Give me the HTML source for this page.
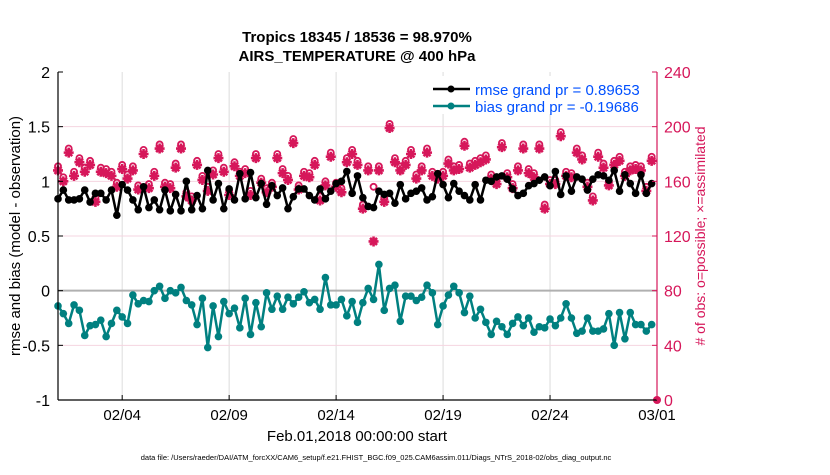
<!DOCTYPE html>
<html><head><meta charset="utf-8"><style>
body{margin:0;background:#fff;}
svg text{font-family:"Liberation Sans",Arial,sans-serif;}
</style></head><body>
<svg id="chart" width="830" height="470" xmlns="http://www.w3.org/2000/svg">
<rect width="830" height="470" fill="#fff"/>
<g id="grid"></g>
<g id="marks"></g>
<g id="axes"></g>
<text x="357" y="42" text-anchor="middle" font-size="15" font-weight="bold">Tropics 18345 / 18536 = 98.970%</text>
<text x="357" y="61" text-anchor="middle" font-size="15" font-weight="bold">AIRS_TEMPERATURE @ 400 hPa</text>
<text transform="translate(20,236) rotate(-90)" text-anchor="middle" font-size="15">rmse and bias (model - observation)</text>
<text transform="translate(705,236) rotate(-90)" text-anchor="middle" font-size="14" fill="#d6175a">#  of obs: o=possible; &#215;=assimilated</text>
<text x="357" y="441" text-anchor="middle" font-size="15">Feb.01,2018 00:00:00 start</text>
<text x="376" y="460" text-anchor="middle" font-size="7.5">data file: /Users/raeder/DAI/ATM_forcXX/CAM6_setup/f.e21.FHIST_BGC.f09_025.CAM6assim.011/Diags_NTrS_2018-02/obs_diag_output.nc</text>
<g>
<rect x="425" y="76" width="228" height="38" fill="#fff"/>
<line x1="433" y1="89" x2="470" y2="89" stroke="#000" stroke-width="2.5"/>
<circle cx="451" cy="89" r="3.5" fill="#000"/>
<text x="475" y="95" font-size="15" fill="#0050ff">rmse grand pr = 0.89653</text>
<line x1="433" y1="106" x2="470" y2="106" stroke="#008080" stroke-width="2.5"/>
<circle cx="451" cy="106" r="3.5" fill="#008080"/>
<text x="475" y="112" font-size="15" fill="#0050ff">bias grand pr = -0.19686</text>
</g>
</svg>
<script>
const rmse=[0.84,0.92,0.83,0.83,0.84,0.92,0.81,0.89,0.89,0.83,0.92,0.69,0.97,0.92,0.83,0.74,0.95,0.76,0.83,0.74,0.92,0.73,0.88,0.73,1.0,0.74,0.87,0.75,1.10,0.83,0.98,0.75,0.93,0.83,1.07,0.84,1.08,0.85,0.98,0.79,0.96,0.87,0.94,0.75,0.86,0.93,0.93,0.87,0.83,0.93,0.84,0.91,0.98,1.0,1.09,0.89,1.05,0.85,
0.77,0.76,0.91,0.88,0.89,0.80,0.97,0.84,0.89,0.91,0.94,0.83,0.86,1.07,0.97,0.85,0.98,0.91,0.87,0.83,0.97,0.83,1.01,1.0,1.04,1.05,1.02,0.93,0.87,0.89,0.96,0.98,1.01,1.04,0.96,1.09,0.88,1.05,0.91,1.04,1.02,0.92,1.02,1.06,1.05,1.01,1.10,0.91,1.06,0.98,0.89,1.06,0.89,0.98];
const bias=[-0.14,-0.21,-0.30,-0.13,-0.18,-0.41,-0.32,-0.31,-0.27,-0.42,-0.30,-0.18,-0.24,-0.30,-0.04,-0.12,-0.09,-0.10,0.0,0.04,-0.07,0.0,-0.02,0.03,-0.09,-0.13,-0.31,-0.07,-0.52,-0.14,-0.42,-0.10,-0.21,-0.16,-0.34,-0.07,-0.40,-0.11,-0.33,-0.02,-0.17,-0.05,-0.17,-0.06,-0.12,-0.06,-0.01,-0.11,-0.08,-0.17,0.12,-0.13,-0.13,-0.08,-0.23,-0.10,-0.29,-0.11,
0.02,-0.08,0.24,-0.18,0.02,0.05,-0.28,-0.05,-0.05,-0.09,-0.06,0.05,-0.02,-0.31,-0.14,-0.04,0.04,-0.02,-0.20,-0.05,-0.25,-0.17,-0.29,-0.40,-0.28,-0.33,-0.40,-0.30,-0.24,-0.32,-0.25,-0.38,-0.33,-0.34,-0.26,-0.32,-0.25,-0.12,-0.25,-0.39,-0.37,-0.25,-0.37,-0.37,-0.35,-0.21,-0.50,-0.20,-0.44,-0.20,-0.31,-0.31,-0.37,-0.31];
const assim=[168,160,181,164,174,167,172,145,167,166,164,156,169,162,168,154,180,155,164,184,156,155,170,184,149,146,172,161,153,165,177,167,150,171,164,166,150,177,159,152,156,177,166,161,188,154,164,163,172,146,157,178,156,152,174,180,172,140,
168,116,168,145,199,174,168,172,180,162,168,181,164,162,164,173,168,169,186,170,172,174,176,162,158,185,163,155,168,184,166,163,184,140,158,158,193,164,163,181,176,156,146,178,170,157,172,175,164,168,169,168,153,175];
const possible=[171,163,184,167,177,170,175,148,170,169,167,159,172,165,171,157,183,158,167,187,159,158,173,187,152,149,175,164,156,168,180,170,153,174,167,169,153,180,162,155,159,180,169,164,191,157,167,166,175,149,160,181,159,155,177,183,175,143,
171,156,171,148,202,177,171,175,183,165,171,184,167,165,167,176,171,172,189,173,175,177,179,165,161,188,166,158,171,187,169,166,187,143,161,161,196,167,166,184,179,159,149,181,173,160,175,178,167,171,172,171,156,178];
const xTickDays=[3,8,13,18,23,28];
const xTickLabels=["02/04","02/09","02/14","02/19","02/24","03/01"];
const yTicks=[-1,-0.5,0,0.5,1,1.5,2];
const yTickLabels=["-1","-0.5","0","0.5","1","1.5","2"];
const rTicks=[0,40,80,120,160,200,240];
const endObsCount=[0];

const X0=58,X1=657,Y0=400,Y1=72,DAYS=28;
const MC='#d6175a';
const xs=d=>X0+(X1-X0)*d/DAYS;
const ys=v=>Y0-(v+1)/3*(Y0-Y1);
const yr=c=>Y0-c/240*(Y0-Y1);
const NS="http://www.w3.org/2000/svg";
function mk(tag,attrs,parent){const e=document.createElementNS(NS,tag);for(const k in attrs)e.setAttribute(k,attrs[k]);parent.appendChild(e);return e;}
const grid=document.getElementById('grid'),marks=document.getElementById('marks'),axes=document.getElementById('axes');

xTickDays.forEach((d,i)=>{
  const g=mk('line',{x1:xs(d),x2:xs(d),y1:Y1,y2:Y0,stroke:'#dcdcdc','stroke-width':1},grid);
  
  
  const t=mk('text',{x:xs(d),y:Y0+20,'text-anchor':'middle','font-size':15},axes);
  t.textContent=xTickLabels[i];
  
  
  const tk=mk('line',{x1:xs(d),x2:xs(d),y1:Y0,y2:Y0-5,stroke:'#000'},axes);
  
  
});
rTicks.forEach(c=>{
  if(c===0||c===240)return;
  const g=mk('line',{x1:X0,x2:X1,y1:yr(c),y2:yr(c),stroke:'#f5d5e0','stroke-width':1},grid);
  
  
});
const zl=mk('line',{x1:X0,x2:X1,y1:ys(0),y2:ys(0),stroke:'#b0b0b0','stroke-width':2},grid);



yTicks.forEach((v,i)=>{
  const t=mk('text',{x:X0-8,y:ys(v)+6,'text-anchor':'end','font-size':16},axes);
  t.textContent=yTickLabels[i];
  
  
  mk('line',{x1:X0,x2:X0+5,y1:ys(v),y2:ys(v),stroke:'#000'},axes);
});
rTicks.forEach(c=>{
  const t=mk('text',{x:X1+7,y:yr(c)+6,'font-size':16,fill:MC},axes);
  t.textContent=String(c);
  
  
  mk('line',{x1:X1,x2:X1-5,y1:yr(c),y2:yr(c),stroke:MC},axes);
});
const la=mk('line',{x1:X0,x2:X0,y1:Y1,y2:Y0,stroke:'#000','stroke-width':1.2},axes);


const ba=mk('line',{x1:X0,x2:X1,y1:Y0,y2:Y0,stroke:'#000','stroke-width':1.2},axes);


const ra=mk('line',{x1:X1,x2:X1,y1:Y1,y2:Y0,stroke:MC,'stroke-width':1.2},axes);



const tDay=i=>i*0.25;
possible.forEach((c,i)=>{
  const e=mk('circle',{cx:xs(tDay(i)),cy:yr(c),r:3,fill:'none',stroke:MC,'stroke-width':1.8},marks);
  
  
});
assim.forEach((c,i)=>{
  const x=xs(tDay(i)),y=yr(c);
  const e=mk('path',{d:`M${x-5} ${y}H${x+5}M${x} ${y-5}V${y+5}M${x-3.5} ${y-3.5}L${x+3.5} ${y+3.5}M${x-3.5} ${y+3.5}L${x+3.5} ${y-3.5}`,stroke:MC,'stroke-width':2.6},marks);
  
  
});
endObsCount.forEach(c=>{
  const e=mk('circle',{cx:xs(DAYS),cy:yr(c),r:4,fill:MC},marks);
  
  
});
function series(arr,color,name){
  const p=mk('polyline',{points:arr.map((v,i)=>xs(tDay(i))+','+ys(v)).join(' '),fill:'none',stroke:color,'stroke-width':2.5,'stroke-linejoin':'round'},marks);
  
  
  arr.forEach((v,i)=>{
    const c=mk('circle',{cx:xs(tDay(i)),cy:ys(v),r:3.8,fill:color},marks);
    
    
  });
}
series(rmse,'#000','rmse');
series(bias,'#008080','bias');
</script>
</body></html>
